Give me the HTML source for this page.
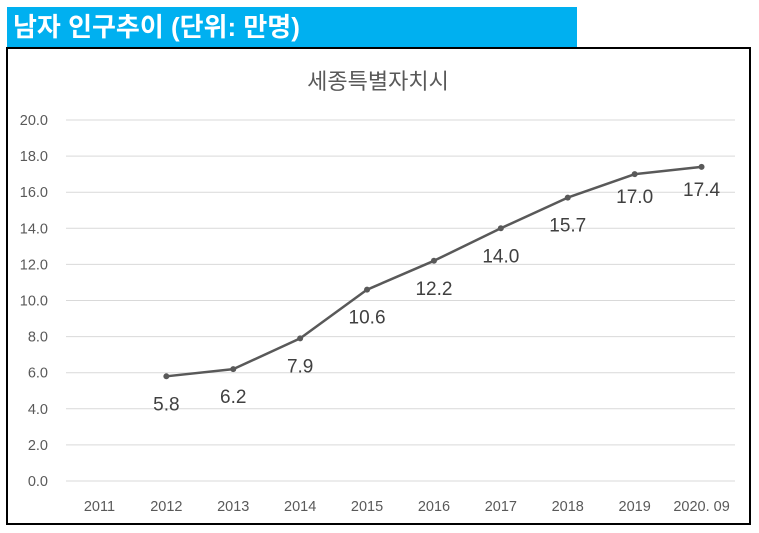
<!DOCTYPE html>
<html><head><meta charset="utf-8"><style>
body{margin:0;width:759px;height:533px;background:#fff;position:relative;overflow:hidden;font-family:"Liberation Sans","Noto Sans CJK KR",sans-serif}
#hdr{position:absolute;left:7px;top:7px;width:570px;height:40px;background:#00B0F0;color:#fff;font-weight:bold;font-size:26px;line-height:40px;padding-left:6px;box-sizing:border-box}
#box{position:absolute;left:6px;top:47px;width:745px;height:478px;border:2.5px solid #000;box-sizing:border-box}
svg{position:absolute;left:0;top:0}
</style></head><body>
<div id="hdr">남자 인구추이 (단위: 만명)</div>
<div id="box"></div>
<svg id="chart" width="759" height="533"></svg>
<script>
const categories=["2011","2012","2013","2014","2015","2016","2017","2018","2019","2020. 09"];
const values=[null,5.8,6.2,7.9,10.6,12.2,14.0,15.7,17.0,17.4];
const yTicks=[0,2,4,6,8,10,12,14,16,18,20];
const NS="http://www.w3.org/2000/svg";
const svg=document.getElementById('chart');
const x0=66,x1=735,y0=481,y1=120;
const step=(x1-x0)/categories.length;
const xs=i=>x0+step*(i+0.5);
const ys=v=>y0-(v/20)*(y0-y1);
function mk(t,a){const e=document.createElementNS(NS,t);for(const k in a)e.setAttribute(k,a[k]);svg.appendChild(e);return e;}
const title=mk('text',{x:378,y:89,'text-anchor':'middle','font-size':'22','fill':'#595959','font-family':'Liberation Sans, Noto Sans CJK KR, sans-serif'});
title.textContent='세종특별자치시';


yTicks.forEach(v=>{
 const g=mk('line',{x1:x0,x2:x1,y1:ys(v),y2:ys(v),stroke:'#d9d9d9','stroke-width':1});
 
 
 const t=mk('text',{x:48,y:ys(v)+5,'text-anchor':'end','font-size':'14.5','fill':'#595959'});
 t.textContent=v.toFixed(1);
 
 
});
categories.forEach((c,i)=>{
 const t=mk('text',{x:xs(i),y:511,'text-anchor':'middle','font-size':'14.5','fill':'#595959'});
 t.textContent=c;
 
 
});
let d='';
values.forEach((v,i)=>{if(v==null)return;d+=(d?'L':'M')+xs(i)+' '+ys(v);});
const p=mk('path',{d:d,fill:'none',stroke:'#595959','stroke-width':2.5,'stroke-linejoin':'round'});


values.forEach((v,i)=>{
 if(v==null)return;
 const c=mk('circle',{cx:xs(i),cy:ys(v),r:3,fill:'#595959'});
 
 
 const t=mk('text',{x:xs(i),y:ys(v)+(i>=8?29:34),'text-anchor':'middle','font-size':'19','fill':'#404040'});
 t.textContent=v.toFixed(1);
 
 
});
</script>
</body></html>
